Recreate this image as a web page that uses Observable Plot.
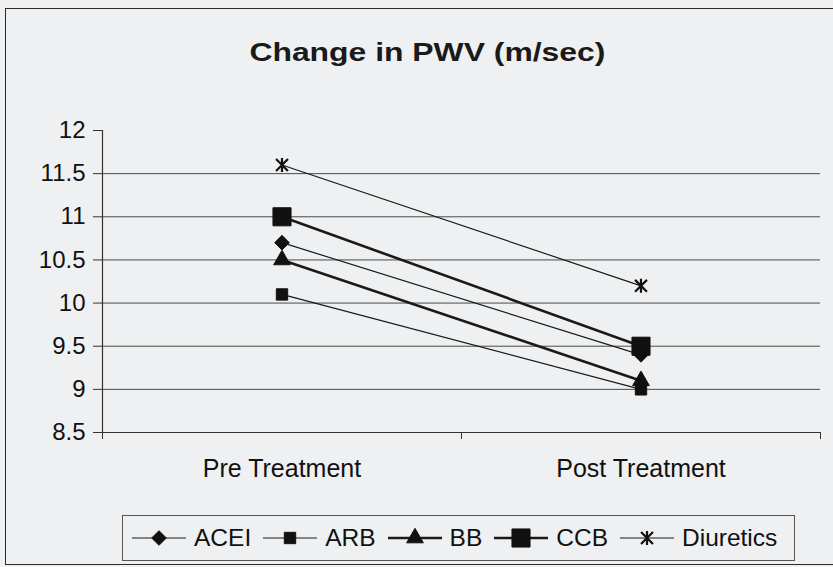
<!DOCTYPE html>
<html><head><meta charset="utf-8">
<script src="https://cdn.jsdelivr.net/npm/d3@7"></script>
<script src="https://cdn.jsdelivr.net/npm/@observablehq/plot@0.6"></script>
<style>
html,body{margin:0;padding:0;background:#eef0f2;}
body{width:833px;height:567px;overflow:hidden;position:relative;font-family:"Liberation Sans",Arial,sans-serif;color:#111;}
#frame{position:absolute;left:5px;top:8px;width:840px;height:557px;border:1.5px solid #2a2a2a;box-sizing:border-box;}
#title{position:absolute;left:0;top:38px;width:854px;text-align:center;font-weight:bold;font-size:25.5px;line-height:29px;color:#1a1a1a;}
#title span{display:inline-block;transform:scaleX(1.25);}
#chart{position:absolute;left:0;top:100px;}
#legend{position:absolute;left:122px;top:515px;width:673px;height:46px;border:1px solid #555;box-sizing:border-box;display:flex;align-items:center;padding-left:9px;font-size:24.5px;}
#legend .item{display:flex;align-items:center;margin-right:12px;}
#legend svg{margin-right:8px;}
</style>
</head><body>
<div id="frame"></div>
<div id="title"><span>Change in PWV (m/sec)</span></div>
<div id="chart"></div>
<div id="legend"></div>
<script>
// ---- data ----
const categories = ["Pre Treatment", "Post Treatment"];
const series = ["ACEI", "ARB", "BB", "CCB", "Diuretics"];
const preValues = [10.7, 10.1, 10.5, 11.0, 11.6];
const postValues = [9.4, 9.0, 9.1, 9.5, 10.2];
const yTicks = [8.5, 9, 9.5, 10, 10.5, 11, 11.5, 12];

// ---- styles ----
const asteriskX = {
  draw(context, size) {
    const r = Math.sqrt(size / Math.PI);
    const d = r * 0.85;
    context.moveTo(0, -r); context.lineTo(0, r);
    context.moveTo(-d, -d); context.lineTo(d, d);
    context.moveTo(-d, d); context.lineTo(d, -d);
  }
};
const styles = {
  ACEI: {symbol: d3.symbolDiamond2, r: 6.6, width: 1.2, fill: "#111", stroke: "#111", sw: 1},
  ARB: {symbol: d3.symbolSquare, r: 6.4, width: 1.2, fill: "#111", stroke: "#111", sw: 1},
  BB: {symbol: d3.symbolTriangle, r: 6.2, width: 2.6, fill: "#111", stroke: "#111", sw: 1},
  CCB: {symbol: d3.symbolSquare, r: 10.2, width: 2.6, fill: "#111", stroke: "#111", sw: 1},
  Diuretics: {symbol: asteriskX, r: 7, width: 1.2, fill: "none", stroke: "#111", sw: 2.2}
};

const rows = series.flatMap((s, j) => [
  {series: s, x: 0.5, y: preValues[j]},
  {series: s, x: 1.5, y: postValues[j]}
]);

const marks = [
  Plot.ruleY(yTicks.filter(v => v > yTicks[0] && v < yTicks[yTicks.length - 1]), {stroke: "#4a4a4a", strokeWidth: 1}),
  Plot.ruleY([yTicks[0]], {stroke: "#333", strokeWidth: 1.2}),
  Plot.ruleX([0], {y1: yTicks[0], y2: yTicks[yTicks.length - 1], stroke: "#333", strokeWidth: 1.2}),
  Plot.axisY(yTicks, {tickSize: 9, tickPadding: 8, fontSize: 24, tickFormat: d => String(d), label: null, stroke: "#333"}),
  Plot.axisX([0, 1, 2], {tickSize: 7, tickFormat: () => "", label: null, stroke: "#333"}),
  Plot.axisX([0.5, 1.5], {tickSize: 0, tickPadding: 27, fontSize: 25, tickFormat: v => categories[Math.floor(v)], label: null})
];
for (const s of series) {
  const st = styles[s];
  const data = rows.filter(d => d.series === s);
  marks.push(Plot.line(data, {x: "x", y: "y", stroke: "#1a1a1a", strokeWidth: st.width}));
}
for (const s of series) {
  const st = styles[s];
  const data = rows.filter(d => d.series === s);
  marks.push(Plot.dot(data, {x: "x", y: "y", symbol: st.symbol, r: st.r, fill: st.fill, stroke: st.stroke, strokeWidth: st.sw}));
}

const chart = Plot.plot({
  width: 833,
  height: 390,
  marginLeft: 102,
  marginRight: 13,
  marginTop: 30,
  marginBottom: 58,
  x: {domain: [0, categories.length], label: null},
  y: {domain: [yTicks[0], yTicks[yTicks.length - 1]], label: null},
  style: {background: "transparent", fontFamily: "'Liberation Sans', Arial, sans-serif", color: "#111", overflow: "visible"},
  marks
});
document.getElementById("chart").appendChild(chart);

// ---- legend ----
const legend = d3.select("#legend");
for (const s of series) {
  const st = styles[s];
  const item = legend.append("div").attr("class", "item");
  const svg = item.append("svg").attr("width", 54).attr("height", 24);
  svg.append("line").attr("x1", 0).attr("x2", 54).attr("y1", 12).attr("y2", 12)
    .attr("stroke", "#1a1a1a").attr("stroke-width", st.width);
  const size = Math.PI * st.r * st.r;
  svg.append("path").attr("transform", "translate(27,12)")
    .attr("d", d3.symbol(st.symbol, size)())
    .attr("fill", st.fill).attr("stroke", st.stroke).attr("stroke-width", st.sw);
  item.append("span").text(s);
}
</script>
</body></html>
